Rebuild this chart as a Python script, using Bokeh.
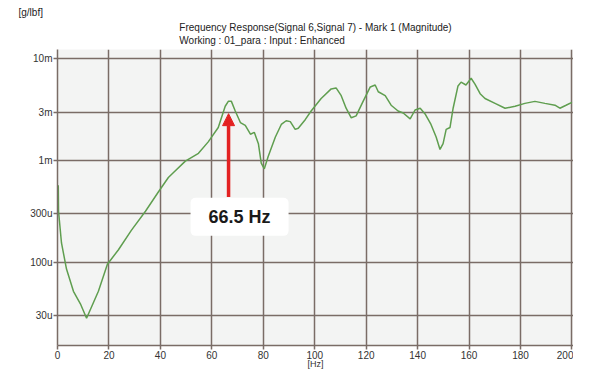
from bokeh.plotting import figure
from bokeh.models import (Range1d, FixedTicker, Label, Title, Arrow, NormalHead,
                          ColumnDataSource)
from bokeh.embed import file_html
from bokeh.resources import INLINE

# ---- data ----
freq_hz = [0.3, 0.4, 1.55, 3.5, 6.2, 8.9, 11.3, 15.9, 19.4, 23.7, 28.7, 34.2, 39.2, 43.1,
           45.0, 49.7, 54.8, 58.6, 62.5, 65.2, 66.4, 67.6, 69.1, 71.1, 73.0, 75.0, 76.5,
           78.1, 79.2, 80.4, 81.9, 84.7, 87.0, 88.9, 90.5, 92.4, 93.6, 96.3, 98.6, 102.5,
           106.4, 108.3, 110.3, 112.2, 114.2, 116.1, 118.8, 121.6, 123.5, 124.7, 127.4,
           129.7, 132.4, 134.4, 137.1, 139.0, 141.0, 142.9, 145.2, 147.2, 148.7, 149.9,
           151.1, 152.6, 153.8, 155.7, 156.9, 158.8, 160.8, 162.3, 164.3, 166.2, 170.1,
           174.0, 177.9, 181.7, 185.6, 189.5, 193.4, 195.3, 197.7, 200.0]
magnitude = [5.73e-4, 3.18e-4, 1.55e-4, 8.58e-5, 5.19e-5, 3.91e-5, 2.82e-5, 5.19e-5,
             9.57e-5, 1.33e-4, 2.06e-4, 3.18e-4, 4.92e-4, 6.83e-4, 7.61e-4, 9.89e-4,
             1.18e-3, 1.53e-3, 2.12e-3, 3.43e-3, 3.83e-3, 3.83e-3, 3.08e-3, 2.37e-3,
             2.22e-3, 1.82e-3, 1.90e-3, 1.47e-3, 9.47e-4, 8.31e-4, 1.10e-3, 1.71e-3,
             2.27e-3, 2.47e-3, 2.42e-3, 2.03e-3, 2.08e-3, 2.53e-3, 3.08e-3, 4.09e-3,
             5.08e-3, 5.19e-3, 4.36e-3, 3.28e-3, 2.64e-3, 2.76e-3, 3.83e-3, 5.31e-3,
             5.55e-3, 4.76e-3, 4.36e-3, 3.51e-3, 3.08e-3, 2.94e-3, 2.58e-3, 3.15e-3,
             3.28e-3, 2.88e-3, 2.27e-3, 1.71e-3, 1.29e-3, 1.47e-3, 2.03e-3, 2.12e-3,
             3.28e-3, 5.43e-3, 5.92e-3, 5.55e-3, 6.46e-3, 5.67e-3, 4.56e-3, 4.09e-3,
             3.66e-3, 3.28e-3, 3.43e-3, 3.66e-3, 3.83e-3, 3.66e-3, 3.51e-3, 3.28e-3,
             3.51e-3, 3.75e-3]

x_ticks = [0, 20, 40, 60, 80, 100, 120, 140, 160, 180, 200]
y_ticks = [3e-5, 1e-4, 3e-4, 1e-3, 3e-3, 1e-2]
y_tick_labels = ["30u", "100u", "300u", "1m", "3m", "10m"]

marker_hz = 66.5
marker_text = "66.5 Hz"
arrow_tail = 4.4e-4
arrow_tip = 2.9e-3
label_y = 2.8e-4

title1 = "Frequency Response(Signal 6,Signal 7) - Mark 1 (Magnitude)"
title2 = "Working : 01_para : Input : Enhanced"
unit_text = "[g/lbf]"

FONT = "Liberation Sans"
GRID = "#7a6c66"
W, H = 573, 371

p = figure(width=W, height=H, output_backend="svg", toolbar_location=None,
           y_axis_type="log", x_range=Range1d(0, 200.6), y_range=Range1d(1.52e-5, 0.0124),
           min_border_left=57, min_border_right=0, min_border_top=49, min_border_bottom=0,
           background_fill_color="#f3f4f3", border_fill_color="white")
p.title.text = ""
p.outline_line_color = None

p.add_layout(Title(text=title1 + "\n" + title2, align="center", text_font=FONT,
                   text_font_size="10px", text_font_style="normal",
                   text_color="#222222", standoff=6, text_line_height=1.2), "above")
p.add_layout(Title(text=unit_text, align="left", offset=-39, text_font=FONT,
                   text_font_size="10px", text_font_style="normal",
                   text_color="#222222", standoff=0), "above")

src = ColumnDataSource(dict(x=freq_hz, y=magnitude))
p.line("x", "y", source=src, line_color="#5f9e4f", line_width=1.5)

p.xaxis.ticker = FixedTicker(ticks=x_ticks)
p.yaxis.ticker = FixedTicker(ticks=y_ticks)
p.yaxis.major_label_overrides = {t: l for t, l in zip(y_ticks, y_tick_labels)}
p.xaxis.axis_label = "[Hz]"
p.xaxis.axis_label_text_font = FONT
p.xaxis.axis_label_text_font_size = "9px"
p.xaxis.axis_label_text_font_style = "normal"
p.xaxis.axis_label_standoff = -3
p.xaxis.axis_label_text_color = "#333333"
for ax in (p.xaxis, p.yaxis):
    ax.major_label_text_font = FONT
    ax.major_label_text_font_size = "10px"
    ax.major_label_text_color = "#333333"
    ax.axis_line_color = GRID
    ax.axis_line_width = 1.5
    ax.major_tick_line_color = GRID
    ax.major_tick_line_width = 1.5
    ax.major_tick_out = 4
    ax.major_tick_in = 0
    ax.minor_tick_line_color = None
    ax.major_label_standoff = 1

p.xgrid.ticker = FixedTicker(ticks=x_ticks)
p.ygrid.ticker = FixedTicker(ticks=y_ticks)
for g in (p.xgrid, p.ygrid):
    g.grid_line_color = GRID
    g.grid_line_width = 1.5
    g.grid_line_alpha = 1.0

p.add_layout(Label(x=marker_hz, y=label_y, x_offset=11, text=marker_text, text_align="center",
                   text_baseline="middle", text_font=FONT, text_font_size="18px",
                   text_font_style="bold", text_color="#1a1a1a",
                   background_fill_color="white", background_fill_alpha=1.0,
                   padding=dict(left=18, right=18, top=9, bottom=9), border_radius=5))
p.add_layout(Arrow(x_start=marker_hz, y_start=arrow_tail, x_end=marker_hz, y_end=arrow_tip,
                   line_color="#e32222", line_width=3.5,
                   end=NormalHead(size=12, fill_color="#e32222", line_color="#e32222")))

open("out.html", "w").write(file_html(p, INLINE))
